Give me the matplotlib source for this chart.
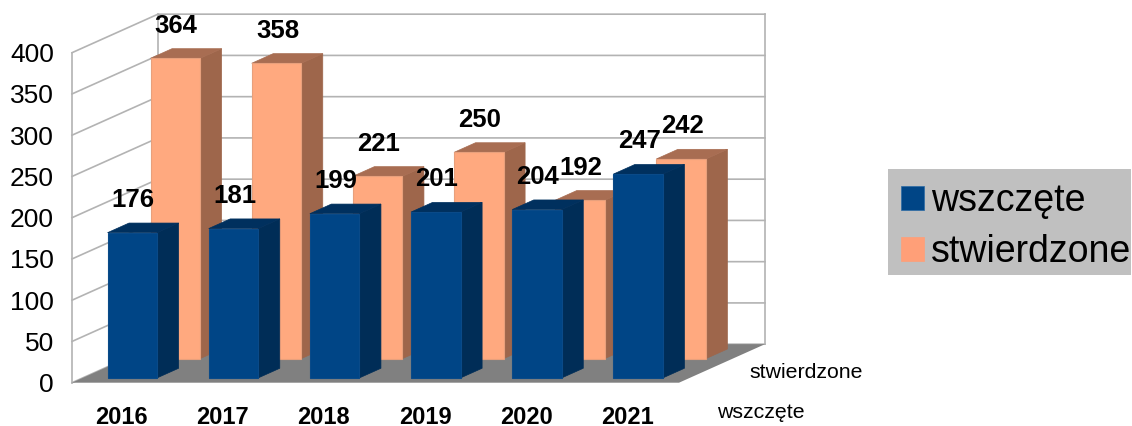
import matplotlib
matplotlib.use('Agg')
import matplotlib.pyplot as plt
from matplotlib.patches import Patch, Rectangle

plt.rcParams['font.family'] = ['Liberation Sans', 'DejaVu Sans']

# --- data ---
years = ['2016', '2017', '2018', '2019', '2020', '2021']
wszczete = [176, 181, 199, 201, 204, 247]
stwierdzone = [364, 358, 221, 250, 192, 242]
y_ticks = [0, 50, 100, 150, 200, 250, 300, 350, 400]

# fake 3d: how far one full step into the chart moves a point, in data units
DX = 0.85
DY = 46.7
BAR_W = 0.49
X_OFF = 0.49
GRID = '#b3b3b3'


def shift(x, y, d):
    return x + DX * d, y + DY * d


def draw_bars(ax, values, d0, d1, front, side, top, edge, z):
    # d0/d1 = front and back of the bar along the depth axis
    for i, v in enumerate(values):
        left = i + X_OFF - BAR_W / 2
        right = left + BAR_W
        sx0, sy0 = shift(left, 0, d0)
        ax.bar(sx0, v, BAR_W, bottom=sy0, align='edge', color=front,
               edgecolor=edge, linewidth=0.8, zorder=z + 0.2, clip_on=False)
        a = shift(right, 0, d0)
        b = shift(right, 0, d1)
        c = shift(right, v, d1)
        e = shift(right, v, d0)
        ax.fill([a[0], b[0], c[0], e[0]], [a[1], b[1], c[1], e[1]], color=side,
                zorder=z, clip_on=False, lw=0.5)
        a = shift(left, v, d0)
        b = shift(left, v, d1)
        c = shift(right, v, d1)
        e = shift(right, v, d0)
        ax.fill([a[0], b[0], c[0], e[0]], [a[1], b[1], c[1], e[1]], color=top,
                zorder=z + 0.1, clip_on=False, lw=0.5)
        lx, ly = shift(left + BAR_W / 2, v, d0)
        ax.annotate(str(v), (lx, ly), xytext=(0.7, 23.5), textcoords='offset points',
                    ha='center', va='center', fontsize=18.5, fontweight='bold',
                    color='black', zorder=20, annotation_clip=False)


fig = plt.figure(figsize=(11.32, 4.26), dpi=100)
ax = fig.add_axes([72 / 1132, (426 - 382.7) / 426, 607 / 1132, 330 / 426])
ax.set_xlim(0, 6)
ax.set_ylim(0, 400)
for s in ax.spines.values():
    s.set_visible(False)
ax.patch.set_alpha(0)

# floor
fx = [0, 6, 6 + DX, DX]
fy = [0, 0, DY, DY]
ax.fill(fx, fy, color='#808080', zorder=1, clip_on=False, lw=0)

# walls and grid lines
for t in y_ticks:
    ax.plot([0, DX, 6 + DX], [t, t + DY, t + DY], color=GRID, lw=1.2, zorder=0.5,
            clip_on=False, solid_joinstyle='miter')
ax.plot([0, 0], [0, 400], color=GRID, lw=1.2, zorder=0.5, clip_on=False)
ax.plot([DX, DX], [DY, 400 + DY], color=GRID, lw=1.2, zorder=0.5, clip_on=False)
ax.plot([6 + DX, 6 + DX], [DY, 400 + DY], color=GRID, lw=1.2, zorder=0.5, clip_on=False)

draw_bars(ax, stwierdzone, 0.625, 0.875, '#ffa97f', '#9e664b', '#a86d52', '#e8a07c', 3)
draw_bars(ax, wszczete, 0.125, 0.375, '#004586', '#002d57', '#00305e', '#0a4a88', 5)

ax.set_xticks([i + X_OFF for i in range(len(years))])
ax.set_xticklabels(years, fontsize=17, fontweight='bold')
ax.set_yticks(y_ticks)
ax.set_yticklabels([str(t) for t in y_ticks], fontsize=19)
ax.tick_params(axis='x', length=0, pad=16.5)
ax.tick_params(axis='y', length=0, pad=13)

# depth axis labels
fig.text(761 / 1132, 1 - 413 / 426, 'wszczęte', fontsize=15.3, ha='center', va='center')
fig.text(806 / 1132, 1 - 373 / 426, 'stwierdzone', fontsize=15.3, ha='center', va='center')

# legend box is drawn separately so its height can match
fig.patches.append(Rectangle((888 / 1132, 1 - 275 / 426), 243 / 1132, 106 / 426,
                             transform=fig.transFigure, facecolor='#c0c0c0',
                             edgecolor='none', figure=fig, zorder=0))
handles = [Patch(facecolor='#004586', edgecolor='#2a6aa5', lw=0.5),
           Patch(facecolor='#ff9f78', edgecolor='#ff9f78', lw=0.5)]
fig.legend(handles, ['wszczęte', 'stwierdzone'], loc='upper left',
           bbox_to_anchor=(888 / 1132, 1 - 170 / 426), bbox_transform=fig.transFigure,
           borderaxespad=0, fontsize=27, frameon=False, handlelength=0.6,
           handleheight=0.6, handletextpad=0.2, labelspacing=0.4, borderpad=0.35)

fig.savefig('out.png', dpi=100)
